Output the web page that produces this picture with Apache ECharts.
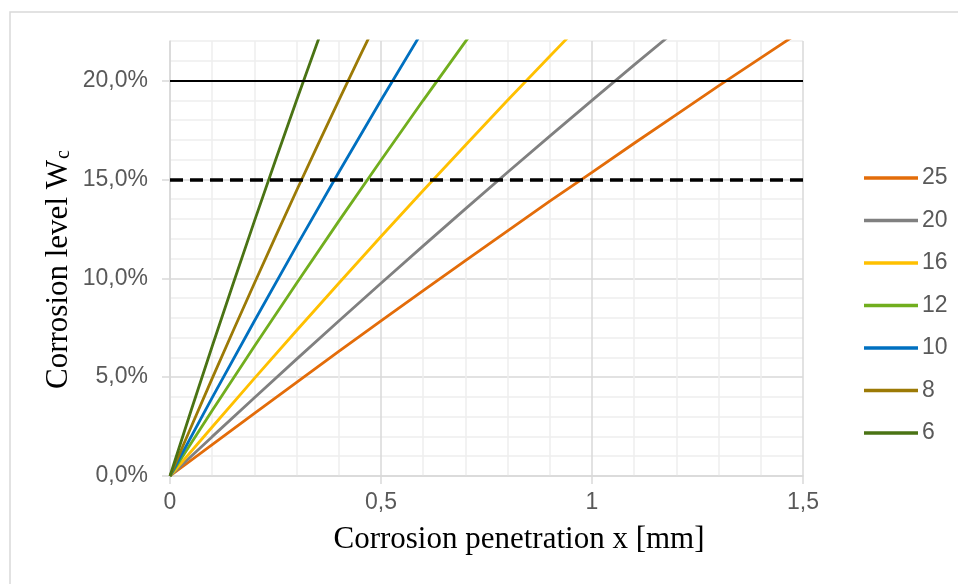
<!DOCTYPE html>
<html>
<head>
<meta charset="utf-8">
<script src="https://cdn.jsdelivr.net/npm/echarts@6/dist/echarts.min.js"></script>
<style>
  html, body { margin: 0; padding: 0; background: #fff; }
  #chart { width: 958px; height: 584px; }
</style>
</head>
<body>
<div id="chart"></div>
<script>
// corrosion penetration x [mm]
const penetration = [0, 0.1, 0.2, 0.3, 0.4, 0.5, 0.6, 0.7, 0.8, 0.9, 1.0, 1.1, 1.2, 1.3, 1.4, 1.5];
const penetrationFine = [0, 0.05, 0.1, 0.15, 0.2, 0.25, 0.3, 0.35, 0.4, 0.45, 0.5];

// corrosion level Wc [%] per bar diameter
const level25 = [0, 1.59, 3.17, 4.74, 6.30, 7.84, 9.37, 10.89, 12.40, 13.90, 15.36, 16.83, 18.28, 19.73, 21.15, 22.56];
const level20 = [0, 1.99, 3.96, 5.91, 7.84, 9.75, 11.64, 13.51, 15.36, 17.19, 19.00, 20.79, 22.56];
const level16 = [0, 2.48, 4.94, 7.36, 9.75, 12.11, 14.44, 16.73, 19.00, 21.23, 23.44];
const level12 = [0, 3.31, 6.56, 9.75, 12.89, 15.97, 19.00, 21.97, 24.89];
const level10 = [0, 3.96, 7.84, 11.64, 15.36, 19.00, 22.56];
const level8 = [0, 2.48, 4.94, 7.36, 9.75, 12.11, 14.44, 16.73, 19.00, 21.23, 23.44];  // fine steps
const level6 = [0, 3.31, 6.56, 9.75, 12.89, 15.97, 19.00, 21.97, 24.89];            // fine steps

const diameters = ['25', '20', '16', '12', '10', '8', '6'];
const limitSolid = 20;
const limitDashed = 15;

const yLabelValues = [0, 5, 10, 15, 20];
const xLabelValues = [0, 0.5, 1, 1.5];

function pairs(xs, ys) {
	return ys.map((y, i) => [xs[i], y]);
}

const seriesDefs = [
	{name: '25', data: pairs(penetration, level25), color: '#E36C09'},
	{name: '20', data: pairs(penetration, level20), color: '#808080'},
	{name: '16', data: pairs(penetration, level16), color: '#FFC000'},
	{name: '12', data: pairs(penetration, level12), color: '#71AE1E'},
	{name: '10', data: pairs(penetration, level10), color: '#0070C0'},
	{name: '8', data: pairs(penetrationFine, level8), color: '#9C7A06'},
	{name: '6', data: pairs(penetrationFine, level6), color: '#4A7314'}
];

const gridMajor = '#d9d9d9';
const gridMinor = '#eeeeee';
const labelColor = '#595959';
const labelFont = 'Liberation Sans, Arial, sans-serif';

let series = seriesDefs.map(s => ({
	name: s.name,
	type: 'line',
	data: s.data,
	xAxisIndex: 0,
	yAxisIndex: 0,
	showSymbol: false,
	symbol: 'none',
	clip: true,
	lineStyle: {color: s.color, width: 2.8},
	itemStyle: {color: s.color}
}));

// limit lines
series[0].markLine = {
	silent: true,
	symbol: ['none', 'none'],
	label: {show: false},
	animation: false,
	data: [
		{yAxis: limitSolid, lineStyle: {color: '#000', width: 2, type: 'solid'}},
		{yAxis: limitDashed, lineStyle: {color: '#000', width: 3.5, type: [13, 7]}}
	]
};

let myChart = echarts.init(document.getElementById('chart'));
let option = {
	animation: false,
	backgroundColor: '#fff',
	grid: {
		left: 170,
		right: 155,
		top: 41,
		bottom: 108,
		outerBoundsMode: 'none'
	},
	xAxis: [
		// grid lines every 0.1, darker every 0.5
		{
			type: 'value',
			min: 0,
			max: 1.5,
			interval: 0.1,
			axisLine: {show: false},
			axisTick: {show: false},
			axisLabel: {show: false},
			splitLine: {
				show: true,
				lineStyle: {color: [gridMajor, gridMinor, gridMinor, gridMinor, gridMinor], width: 1.5}
			}
		},
		// axis line, ticks and labels
		{
			type: 'value',
			position: 'bottom',
			min: 0,
			max: 1.5,
			interval: 0.5,
			axisLine: {show: true, onZero: false, lineStyle: {color: gridMajor, width: 1.5}},
			axisTick: {show: true, length: 8, customValues: xLabelValues, lineStyle: {color: gridMajor, width: 1.5}},
			axisLabel: {
				customValues: xLabelValues,
				margin: 15,
				color: labelColor,
				fontSize: 23,
				fontFamily: labelFont,
				formatter: v => String(v).replace('.', ',')
			},
			splitLine: {show: false}
		}
	],
	yAxis: [
		// grid lines every 1 %, darker every 5 %
		{
			type: 'value',
			min: 0,
			max: 22,
			interval: 1,
			axisLine: {show: false},
			axisTick: {show: false},
			axisLabel: {show: false},
			splitLine: {
				show: true,
				lineStyle: {color: [gridMajor, gridMinor, gridMinor, gridMinor, gridMinor], width: 1.5}
			}
		},
		{
			type: 'value',
			position: 'left',
			min: 0,
			max: 22,
			interval: 1,
			axisLine: {show: true, onZero: false, lineStyle: {color: gridMajor, width: 1.5}},
			axisTick: {show: true, length: 8, customValues: yLabelValues, lineStyle: {color: gridMajor, width: 1.5}},
			axisLabel: {
				customValues: yLabelValues,
				margin: 22,
				color: labelColor,
				fontSize: 23,
				fontFamily: labelFont,
				formatter: v => v.toFixed(1).replace('.', ',') + '%'
			},
			splitLine: {show: false}
		}
	],
	legend: {
		orient: 'vertical',
		left: 859,
		top: 161,
		data: diameters,
		icon: 'rect',
		itemWidth: 54,
		itemHeight: 3.5,
		itemGap: 18.5,
		selectedMode: false,
		textStyle: {
			color: labelColor,
			fontSize: 23,
			lineHeight: 24,
			padding: [0, 0, 0, -1],
			fontFamily: labelFont
		}
	},
	graphic: [
		{
			type: 'polyline',
			silent: true,
			shape: {points: [[10, 584], [10, 12], [958, 12]]},
			style: {stroke: '#d9d9d9', lineWidth: 1.5, fill: null}
		},
		{
			type: 'text',
			silent: true,
			x: 519,
			y: 540,
			style: {
				text: 'Corrosion penetration x [mm]',
				fill: '#000',
				font: '31px "Liberation Serif", "Times New Roman", serif',
				textAlign: 'center',
				textVerticalAlign: 'middle'
			}
		},
		{
			type: 'group',
			x: 59,
			y: 270,
			rotation: Math.PI / 2,
			silent: true,
			children: [
				{
					type: 'text',
					x: 110,
					y: 0,
					style: {
						text: 'Corrosion level W',
						fill: '#000',
						font: '31px "Liberation Serif", "Times New Roman", serif',
						textAlign: 'right',
						textVerticalAlign: 'middle'
					}
				},
				{
					type: 'text',
					x: 111,
					y: 5,
					style: {
						text: 'c',
						fill: '#000',
						font: '20px "Liberation Serif", "Times New Roman", serif',
						textAlign: 'left',
						textVerticalAlign: 'middle'
					}
				}
			]
		}
	],
	series: series
};
myChart.setOption(option);
</script>
</body>
</html>
